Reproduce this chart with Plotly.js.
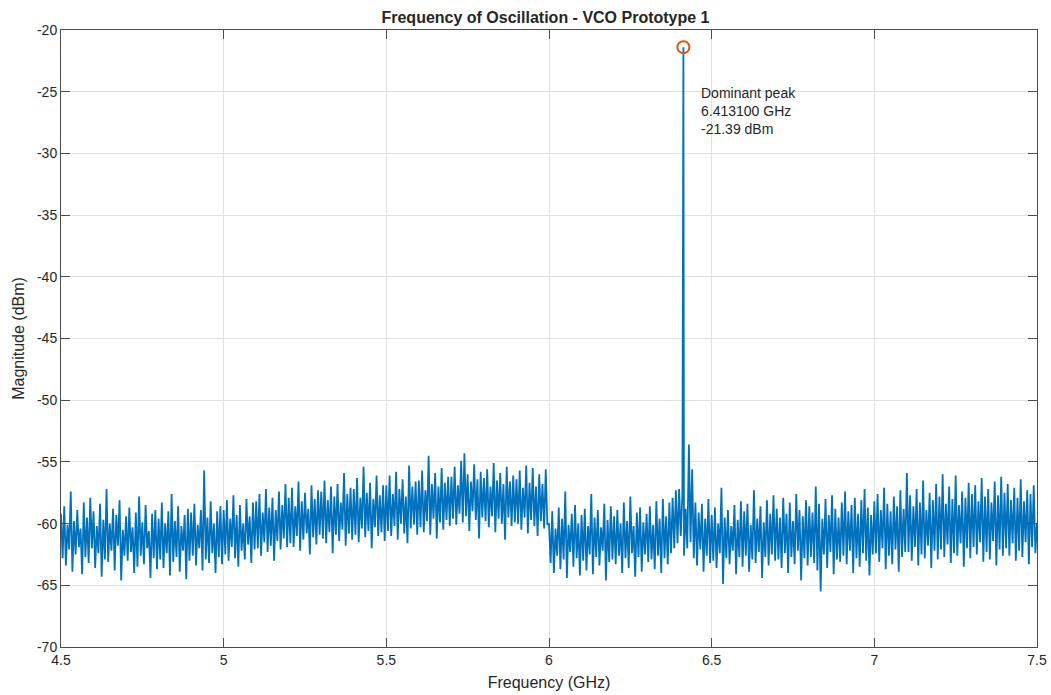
<!DOCTYPE html>
<html>
<head>
<meta charset="utf-8">
<script src="https://cdn.plot.ly/plotly-3.0.1.min.js"></script>
<style>html,body{margin:0;padding:0;background:#fff;}#chart{width:1051px;height:695px;}</style>
</head>
<body>
<div id="chart"></div>
<script>
const FREQ_START_GHZ = 4.5;
const FREQ_STEP_GHZ = 0.005;
const MAGNITUDE_DBM = [
-59.2,-62.8,-58.6,-63.4,-60.1,-62.1,-57.4,-63.9,-59.8,-62.5,-58.9,-61.9,-60.4,-64.1,-58.3,-62.7,-59.5,-63.2,-57.9,-62.0,
-59.0,-63.6,-60.2,-62.4,-58.4,-64.3,-59.7,-62.9,-57.2,-63.1,-60.0,-62.2,-58.8,-63.8,-59.3,-61.8,-58.1,-64.6,-60.5,-62.6,
-59.4,-63.0,-58.7,-62.3,-60.3,-64.0,-59.1,-63.5,-57.8,-62.6,-59.9,-63.3,-58.5,-62.0,-60.6,-64.4,-59.2,-62.8,-58.9,-63.7,
-59.6,-62.9,-58.3,-63.6,-60.0,-62.4,-59.0,-64.2,-57.6,-63.1,-59.8,-62.7,-58.6,-63.9,-60.2,-62.2,-59.3,-64.5,-58.8,-63.0,
-59.1,-62.6,-58.4,-63.4,-60.1,-62.0,-58.9,-63.8,-55.7,-62.9,-59.5,-63.2,-58.2,-62.4,-60.0,-64.0,-59.0,-62.7,-58.6,-63.3,
-58.9,-62.5,-58.1,-63.0,-59.6,-61.9,-57.7,-62.8,-59.3,-63.5,-58.5,-62.2,-60.0,-62.9,-58.0,-61.7,-59.4,-63.2,-58.3,-62.1,
-58.2,-62.0,-57.6,-62.6,-59.1,-61.5,-57.2,-62.3,-58.7,-61.8,-57.9,-63.0,-58.9,-61.4,-57.4,-62.1,-58.5,-61.2,-56.8,-61.9,
-57.9,-61.6,-57.1,-61.9,-58.6,-61.0,-56.6,-62.2,-58.2,-61.3,-57.5,-60.8,-58.8,-62.5,-56.9,-61.1,-58.0,-61.7,-57.3,-60.9,
-57.4,-61.2,-56.5,-61.6,-58.1,-60.7,-57.0,-62.4,-57.8,-60.9,-56.8,-61.4,-58.3,-60.5,-55.9,-61.8,-57.6,-60.8,-57.1,-61.3,
-57.2,-60.9,-56.3,-61.5,-57.9,-60.4,-55.4,-61.1,-57.5,-60.6,-56.7,-62.0,-58.0,-60.3,-56.1,-61.0,-57.7,-60.7,-56.9,-61.4,
-56.9,-60.6,-56.1,-61.0,-57.6,-60.2,-55.8,-61.3,-57.2,-60.0,-56.4,-60.8,-57.8,-61.6,-55.3,-60.4,-57.0,-60.1,-56.6,-60.9,
-56.5,-60.3,-55.7,-60.7,-57.3,-59.8,-54.5,-60.9,-56.8,-59.6,-55.9,-61.2,-57.0,-59.9,-55.5,-60.5,-56.7,-59.7,-56.2,-60.2,
-56.2,-59.6,-55.4,-60.1,-56.9,-59.2,-54.9,-59.9,-54.3,-59.4,-56.0,-60.6,-56.6,-59.0,-55.2,-59.7,-56.4,-61.2,-55.8,-59.5,
-56.3,-59.8,-55.6,-60.3,-57.0,-59.4,-55.1,-60.7,-56.5,-59.6,-55.9,-60.0,-56.8,-61.3,-55.4,-59.5,-56.6,-60.2,-56.1,-59.9,
-56.4,-60.0,-55.7,-60.5,-57.1,-59.5,-55.3,-60.8,-56.7,-59.7,-55.5,-60.2,-57.0,-61.0,-56.0,-59.8,-56.8,-60.4,-55.6,-60.1,
-60.0,-63.2,-59.0,-64.0,-60.4,-62.6,-58.7,-63.7,-59.6,-62.9,-57.4,-64.4,-60.1,-62.3,-59.2,-63.5,-58.5,-62.8,-60.0,-64.2,
-59.3,-63.0,-58.8,-63.8,-60.2,-62.5,-57.6,-64.1,-59.5,-62.7,-58.9,-63.4,-60.3,-62.2,-58.4,-64.6,-59.7,-63.1,-58.6,-62.9,
-59.4,-63.3,-58.9,-62.6,-60.0,-64.0,-58.3,-62.8,-59.8,-63.6,-57.8,-62.4,-60.2,-64.3,-59.1,-62.7,-58.7,-63.9,-59.9,-62.5,
-59.2,-63.1,-58.6,-62.9,-60.1,-63.7,-58.2,-62.6,-59.6,-64.0,-58.0,-62.8,-59.4,-63.3,-58.3,-62.4,-57.9,-62.0,-57.3,-61.6,
-57.2,-61.0,-57.6,-62.6,-58.8,-62.0,-53.6,-61.5,-55.6,-62.8,-58.3,-63.4,-59.1,-62.1,-58.4,-63.9,-59.6,-62.6,-58.0,-63.2,
-59.3,-63.0,-58.7,-63.6,-60.0,-62.4,-57.1,-64.9,-59.5,-62.8,-58.9,-63.3,-60.2,-62.2,-58.5,-64.1,-59.7,-62.7,-58.2,-63.5,
-59.0,-62.6,-58.4,-63.9,-60.1,-62.9,-57.3,-63.2,-59.6,-62.3,-58.6,-64.4,-59.9,-62.7,-58.1,-63.4,-59.2,-62.5,-57.7,-63.0,
-58.8,-62.9,-59.5,-63.6,-57.9,-62.4,-59.2,-64.0,-58.3,-62.7,-59.8,-63.3,-57.6,-62.2,-58.9,-64.6,-59.4,-62.8,-58.1,-63.4,
-58.6,-62.7,-59.1,-63.2,-57.0,-63.8,-58.4,-65.5,-59.6,-62.5,-58.0,-63.6,-59.3,-62.3,-57.7,-64.1,-58.8,-62.9,-59.5,-63.1,
-58.3,-62.6,-57.4,-63.3,-59.0,-62.2,-58.5,-64.0,-57.9,-62.8,-59.2,-63.5,-58.1,-62.4,-57.2,-63.0,-58.7,-64.2,-59.3,-62.5,
-58.2,-62.4,-57.6,-63.1,-58.9,-62.0,-57.1,-63.7,-58.4,-62.6,-59.0,-63.3,-57.8,-62.1,-58.6,-63.9,-57.3,-62.7,-58.8,-62.3,
-55.9,-62.3,-57.7,-63.0,-58.6,-61.9,-57.2,-63.4,-58.3,-62.5,-56.5,-62.8,-58.9,-61.8,-57.5,-63.6,-58.1,-62.2,-56.8,-62.9,
-57.8,-62.1,-56.0,-62.7,-58.4,-61.7,-57.0,-63.2,-58.0,-62.4,-56.1,-62.6,-58.5,-61.6,-57.4,-63.5,-57.9,-62.0,-56.7,-62.8,
-57.6,-61.9,-56.9,-62.5,-58.2,-61.5,-56.3,-63.1,-57.8,-62.3,-57.2,-62.9,-58.3,-61.4,-56.6,-63.4,-57.7,-62.1,-56.2,-62.6,
-57.5,-62.0,-56.8,-62.6,-58.1,-61.6,-57.1,-63.0,-57.9,-62.2,-56.4,-62.7,-58.2,-61.5,-57.3,-63.3,-57.6,-61.9,-56.9,-62.4,
-60.0
];
// Dominant peak
const PEAK_FREQ_GHZ = 6.4131;
const PEAK_DBM = -21.39;
const PEAK_LABEL = ["Dominant peak", "6.413100 GHz", "-21.39 dBm"];

const TITLE = "Frequency of Oscillation - VCO Prototype 1";
const X_LABEL = "Frequency (GHz)";
const Y_LABEL = "Magnitude (dBm)";
const X_TICKS = [4.5, 5, 5.5, 6, 6.5, 7, 7.5];
const Y_TICKS = [-70, -65, -60, -55, -50, -45, -40, -35, -30, -25, -20];

// Build the spectrum trace, inserting the peak sample in frequency order
const xs = [], ys = [];
let inserted = false;
MAGNITUDE_DBM.forEach((v, i) => {
  const f = +(FREQ_START_GHZ + i * FREQ_STEP_GHZ).toFixed(4);
  if (!inserted && f > PEAK_FREQ_GHZ) { xs.push(PEAK_FREQ_GHZ); ys.push(PEAK_DBM); inserted = true; }
  xs.push(f); ys.push(v);
});

const FONT = "Liberation Sans, Arial, Helvetica, sans-serif";
const AXC = "#262626";

const traces = [
  { x: xs, y: ys, type: "scatter", mode: "lines", line: { color: "#0072BD", width: 1.8 }, hoverinfo: "skip", showlegend: false },
  { x: [PEAK_FREQ_GHZ], y: [PEAK_DBM], type: "scatter", mode: "markers",
    marker: { symbol: "circle-open", size: 12, color: "#D95319", line: { color: "#D95319", width: 2 } }, showlegend: false }
];

const axisCommon = {
  showline: true, linecolor: "#4d4d4d", linewidth: 1, mirror: "ticks",
  ticks: "inside", ticklen: 9, tickcolor: "#4d4d4d", tickwidth: 1,
  showgrid: true, gridcolor: "#e1e1e1", gridwidth: 1, zeroline: false,
  tickfont: { family: FONT, size: 14, color: AXC }
};

const layout = {
  width: 1051, height: 695,
  margin: { l: 61, r: 14, t: 30, b: 48 },
  paper_bgcolor: "#ffffff", plot_bgcolor: "#ffffff",
  font: { family: FONT, color: AXC },
  title: { text: "<b>" + TITLE + "</b>", font: { family: FONT, size: 16, color: AXC },
           x: 0.4964, xref: "paper", xanchor: "center", y: 1 - 17 / 695, yref: "container", yanchor: "middle" },
  xaxis: Object.assign({}, axisCommon, {
    range: [4.5, 7.5], tickvals: X_TICKS, ticktext: X_TICKS.map(String),
    title: { text: X_LABEL, font: { family: FONT, size: 16, color: AXC }, standoff: 10 }
  }),
  yaxis: Object.assign({}, axisCommon, {
    range: [-70, -20], tickvals: Y_TICKS, ticktext: Y_TICKS.map(String),
    title: { text: Y_LABEL, font: { family: FONT, size: 16, color: AXC }, standoff: 8 }
  }),
  annotations: [{
    x: 6.461, y: -24.3, xref: "x", yref: "y", xanchor: "left", yanchor: "top",
    text: PEAK_LABEL.join("<br>"), showarrow: false, align: "left",
    font: { family: FONT, size: 14, color: AXC }
  }],
  showlegend: false
};

Plotly.newPlot("chart", traces, layout, { displayModeBar: false, staticPlot: true });
</script>
</body>
</html>
